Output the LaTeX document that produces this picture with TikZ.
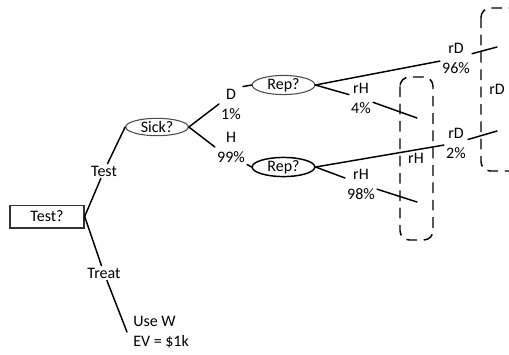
\documentclass[tikz,border=0pt]{standalone}
\usepackage{fontspec}
\setmainfont{Carlito}
\usetikzlibrary{shapes.geometric}
\begin{document}
\begin{tikzpicture}[x=0.75pt,y=-0.75pt,
  every node/.style={font=\fontsize{12}{15}\selectfont},
  branch/.style={line width=1.1pt, line cap=round},
  chance/.style={ellipse, draw=black!70, line width=0.8pt, minimum width=47pt, minimum height=13pt, inner sep=0pt},
  decide/.style={rectangle, draw=black!80, line width=1pt, minimum width=55.5pt, minimum height=17pt, inner sep=0pt},
  lab/.style={align=center, inner sep=1.5pt},
  group/.style={draw, dashed, dash pattern=on 8pt off 5pt, line width=1.1pt, rounded corners=7pt}]
\useasboundingbox (0,0) rectangle (509,354);
% dashed groups
\draw[group] (400,77) rectangle (433,240);
\draw[group] (481,8) rectangle (530,171);
\node (grH) at (416,158) {rH};
\node (grD) at (497,89) {rD};
% nodes
\node[decide] (test) at (47,216.5) {Test?};
\node[chance] (sick) at (157,127) {Sick?};
\node[chance] (rep1) at (283.5,85) {Rep?};
\node[chance, draw=black, line width=1.1pt] (rep2) at (283.5,167) {Rep?};
% labels
\node[lab] (ltest) at (104,171) {Test};
\node[lab] (ltreat) at (104,273) {Treat};
\node[lab, anchor=west, align=left, inner sep=0pt] (usew) at (133,332) {Use W\\EV = \$1k};
\coordinate (tend) at (127,332);
\node[lab] (lD) at (231,104) {D\\1\%};
\node[lab] (lH) at (231,147) {H\\99\%};
\node[lab] (lrD1) at (456,58) {rD\\96\%};
\node[lab] (lrH1) at (361,98) {rH\\4\%};
\node[lab] (lrD2) at (456,143) {rD\\2\%};
\node[lab] (lrH2) at (361,184) {rH\\98\%};
\coordinate (e1) at (497,47);
\coordinate (e2) at (417,118);
\coordinate (e3) at (497,131);
\coordinate (e4) at (417,202);
% connectors
\draw[branch] (test.east) -- (ltest) -- (sick.west);
\draw[branch] (test.east) -- (ltreat) -- (tend);
\draw[branch] (sick.east) -- (lD.west);
\draw[branch] (lD.north east) -- (rep1.west);
\draw[branch] (sick.east) -- (lH.west);
\draw[branch] (lH.south east) -- (rep2.west);
\draw[branch] (rep1.east) -- (lrD1) -- (e1);
\draw[branch] (rep1.east) -- (lrH1) -- (e2);
\draw[branch] (rep2.east) -- (lrD2) -- (e3);
\draw[branch] (rep2.east) -- (lrH2) -- (e4);
\end{tikzpicture}
\end{document}
